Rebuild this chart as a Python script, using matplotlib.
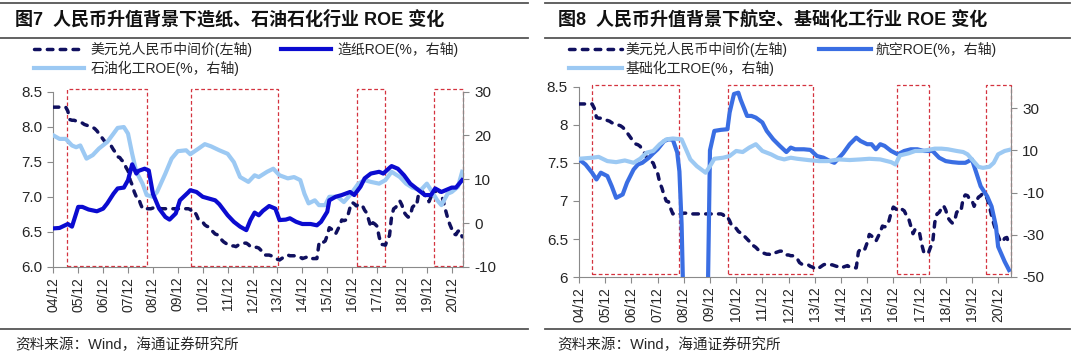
import matplotlib
matplotlib.use("Agg")
import matplotlib.pyplot as plt
import matplotlib.transforms as mtransforms
from matplotlib.patches import Rectangle
from matplotlib.lines import Line2D
import numpy as np

# ---------------- data ----------------
# USD/CNY central parity, monthly, 2004-12 .. 2021-05 (month index 0 = 2004-12)
usd_cny = [
    8.277,
    8.277, 8.277, 8.277, 8.277, 8.277, 8.277, 8.22, 8.10, 8.09, 8.09, 8.08, 8.07,
    8.06, 8.05, 8.03, 8.02, 8.01, 8.00, 7.99, 7.97, 7.94, 7.90, 7.86, 7.82,
    7.78, 7.75, 7.74, 7.72, 7.67, 7.63, 7.57, 7.56, 7.52, 7.50, 7.42, 7.37,
    7.24, 7.17, 7.07, 7.00, 6.99, 6.90, 6.83, 6.84, 6.83, 6.83, 6.83, 6.84,
    6.84, 6.84, 6.84, 6.83, 6.83, 6.83, 6.83, 6.83, 6.83, 6.83, 6.83, 6.83,
    6.83, 6.83, 6.83, 6.83, 6.83, 6.82, 6.78, 6.79, 6.74, 6.67, 6.65, 6.64,
    6.60, 6.58, 6.57, 6.53, 6.50, 6.47, 6.46, 6.41, 6.39, 6.36, 6.34, 6.32,
    6.31, 6.30, 6.30, 6.29, 6.31, 6.32, 6.33, 6.34, 6.34, 6.32, 6.29, 6.29,
    6.28, 6.28, 6.27, 6.24, 6.19, 6.17, 6.17, 6.17, 6.16, 6.14, 6.13, 6.11,
    6.10, 6.12, 6.14, 6.16, 6.17, 6.16, 6.16, 6.16, 6.15, 6.14, 6.14, 6.12,
    6.13, 6.14, 6.15, 6.13, 6.12, 6.12, 6.12, 6.33, 6.37, 6.35, 6.37, 6.45,
    6.56, 6.54, 6.51, 6.47, 6.53, 6.59, 6.67, 6.66, 6.67, 6.74, 6.85, 6.92,
    6.90, 6.87, 6.89, 6.89, 6.87, 6.81, 6.77, 6.67, 6.57, 6.63, 6.61, 6.58,
    6.43, 6.32, 6.32, 6.31, 6.39, 6.45, 6.72, 6.83, 6.85, 6.90, 6.94, 6.88,
    6.78, 6.74, 6.71, 6.73, 6.85, 6.88, 6.87, 7.04, 7.08, 7.07, 7.02, 7.01,
    6.93, 7.00, 7.05, 7.07, 7.10, 7.08, 7.03, 6.93, 6.81, 6.70, 6.61, 6.54,
    6.47, 6.46, 6.51, 6.52, 6.43,
]
usd_month = list(range(len(usd_cny)))

# 造纸 ROE (%)
paper_month = [0, 3, 7, 9, 12, 14, 17, 21, 24, 26, 29, 31, 34, 36, 38, 40, 41, 44, 46, 48,
               51, 54, 56, 59, 61, 65, 66, 69, 72, 75, 78, 80, 84, 87, 90, 93, 95, 97, 99,
               101, 104, 107, 109, 112, 114, 117, 120, 124, 127, 129, 132, 133, 136, 139,
               143, 145, 148, 150, 153, 157, 159, 162, 163, 166, 169, 172, 176, 179, 182,
               184, 187, 189, 192, 194, 197]
paper_roe = [-1.2, -1.1, -0.2, -0.8, 3.7, 3.7, 3.1, 2.7, 3.3, 4.5, 6.7, 7.9, 8.1, 9.8, 13.4,
             11.3, 11.9, 12.4, 12.0, 6.7, 3.3, 1.4, 0.8, 2.2, 5.2, 7.0, 7.5, 7.1, 6.0, 5.6,
             5.2, 4.3, 1.8, 0.3, -0.8, -1.6, 0.7, 2.4, 1.8, 2.8, 3.9, 3.3, 0.7, 0.8, 1.1,
             0.3, -0.2, -0.2, -0.5, 0.3, 2.6, 5.2, 6.0, 6.4, 7.1, 6.4, 8.3, 10.2, 11.3,
             11.7, 11.3, 12.6, 13.0, 12.4, 10.9, 9.0, 7.5, 6.4, 6.4, 7.9, 7.1, 7.5, 8.1,
             8.1, 9.8]

# 石油化工 ROE (%)
petro_month = [0, 3, 6, 9, 11, 13, 16, 19, 22, 26, 29, 31, 34, 36, 38, 40, 43, 45, 48, 50,
               54, 57, 60, 64, 66, 70, 73, 76, 80, 84, 87, 90, 94, 97, 99, 103, 106, 109,
               113, 116, 119, 121, 123, 126, 128, 131, 133, 137, 140, 143, 147, 150, 153,
               157, 160, 163, 167, 170, 173, 177, 180, 182, 185, 187, 190, 192, 195, 197]
petro_roe = [20.0, 19.2, 19.2, 17.7, 17.3, 17.7, 14.7, 15.5, 17.0, 18.5, 20.4, 21.7, 21.9,
             20.4, 15.8, 11.7, 9.0, 6.4, 6.0, 7.1, 11.3, 14.7, 16.4, 16.6, 15.7, 17.0, 18.0,
             17.5, 16.6, 15.8, 13.9, 10.5, 9.4, 10.9, 10.5, 11.7, 12.4, 10.9, 10.2, 10.5,
             9.8, 6.7, 4.5, 5.2, 4.1, 4.1, 6.0, 6.0, 4.8, 6.4, 9.0, 9.8, 9.4, 9.0, 9.8,
             11.7, 10.5, 9.0, 8.1, 7.5, 9.0, 7.5, 5.2, 4.1, 6.7, 7.1, 8.3, 11.7]

# 航空 ROE (%)  (values below -50 run off the chart in 2008-2009)
air_month = [0, 3, 6, 8, 10, 13, 15, 17, 20, 22, 25, 27, 29, 32, 34, 36, 39, 41, 43, 45,
             46, 47, 48, 49, 58, 59, 60, 62, 65, 68, 69, 71, 73, 74, 77, 79, 81, 84, 86,
             89, 92, 95, 97, 99, 103, 106, 109, 112, 115, 117, 121, 124, 127, 129, 132,
             134, 136, 138, 140, 143, 146, 149, 152, 155, 158, 162, 165, 168, 171, 174,
             177, 180, 182, 184, 187, 189, 191, 192, 195, 197]
air_roe = [5.7, 3.3, -0.6, -3.8, -0.6, -2.2, -7.0, -12.5, -10.9, -5.3, 0.9, 3.3, 4.1, 6.5,
           8.6, 10.5, 14.4, 15.2, 15.0, 9.0, 0.0, -25.0, -70.0, -150.0, -150.0, -60.0, 10.0,
           19.2, 19.7, 20.0, 27.9, 36.7, 37.3, 34.1, 26.3, 26.3, 25.5, 23.2, 19.2, 15.2,
           12.1, 9.2, 11.3, 10.5, 10.5, 10.2, 7.3, 6.5, 4.9, 4.1, 8.6, 12.9, 16.0, 14.4,
           12.9, 12.9, 10.5, 12.9, 12.1, 9.7, 8.1, 9.7, 10.5, 10.5, 9.7, 9.7, 6.5, 4.9,
           4.4, 4.1, 4.1, 5.7, -0.6, -7.0, -11.8, -16.6, -26.0, -35.6, -42.7, -46.7]

# 基础化工 ROE (%)
chem_month = [0, 6, 9, 13, 17, 21, 25, 28, 31, 34, 37, 40, 43, 47, 49, 51, 54, 58, 60, 62,
              66, 69, 72, 75, 78, 81, 84, 88, 91, 94, 97, 100, 105, 110, 114, 119, 124, 129,
              133, 138, 143, 145, 147, 151, 154, 157, 160, 163, 166, 169, 173, 176, 178,
              180, 183, 185, 188, 190, 192, 195, 197]
chem_roe = [6.0, 6.5, 6.9, 4.9, 4.4, 5.2, 4.1, 6.0, 8.9, 9.7, 12.9, 15.2, 15.6, 15.2, 10.5,
            5.7, 2.5, -0.6, 2.5, 6.0, 6.5, 7.3, 9.7, 9.2, 11.3, 12.9, 9.7, 8.1, 6.5, 5.7,
            6.5, 6.0, 5.4, 4.9, 4.9, 5.7, 5.4, 5.7, 6.0, 5.7, 4.4, 3.3, 7.6, 8.6, 9.7, 9.7,
            10.2, 10.8, 10.8, 10.5, 9.7, 9.2, 8.1, 5.7, 2.2, 1.7, 2.2, 4.1, 8.1, 9.7, 10.2]

# RMB appreciation periods highlighted (start month, end month)
periods_left = [(6.7, 45.0), (66.2, 108.4), (146.2, 159.9), (183.5, 197.5)]
periods_right = [(6.1, 45.8), (68.4, 107.3), (145.8, 160.3), (186.3, 197.9)]

year_ticks = list(range(0, 193, 12))
year_labels = ["%02d/12" % y for y in range(4, 21)]

title_left = "图7  人民币升值背景下造纸、石油石化行业 ROE 变化"
title_right = "图8  人民币升值背景下航空、基础化工行业 ROE 变化"
source_text = "资料来源：Wind，海通证券研究所"

# ---------------- styling ----------------
plt.rcParams["font.family"] = ["Liberation Sans", "Noto Sans CJK SC"]
plt.rcParams["axes.unicode_minus"] = False

W, H = 1080, 354
fig = plt.figure(figsize=(W / 100, H / 100), dpi=100)
fig.patch.set_facecolor("white")


def fx(px):
    return px / W


def fy(py):
    return 1 - py / H


NAVY = "#10105f"
BLUE = "#0b0bd0"
LIGHT = "#9cc9f3"
ROYAL = "#3a6ee3"
RED = "#d4333f"
GRAY = "#8a8a8a"
TXT = "#262626"


def style_axes(ax, axr, xmax):
    ax.set_xlim(0, xmax)
    for s in ["top"]:
        ax.spines[s].set_visible(False)
        axr.spines[s].set_visible(False)
    for s in ["left", "bottom"]:
        ax.spines[s].set_color(GRAY)
    axr.spines["right"].set_color(GRAY)
    axr.spines["left"].set_visible(False)
    axr.spines["bottom"].set_visible(False)
    ax.spines["right"].set_visible(False)
    ax.set_xticks(year_ticks)
    ax.set_xticklabels(year_labels, rotation=90)
    ax.tick_params(axis="x", direction="out", length=4, color=GRAY, labelsize=10,
                   labelcolor=TXT, pad=3)
    ax.tick_params(axis="y", direction="out", length=4, color=GRAY, labelsize=11,
                   labelcolor=TXT, pad=4)
    axr.tick_params(axis="y", direction="out", length=4, color=GRAY, labelsize=11,
                    labelcolor=TXT, pad=4)


def draw_periods(ax, periods, bottom, top):
    trans = mtransforms.blended_transform_factory(ax.transData, ax.transAxes)
    for (a, b) in periods:
        r = Rectangle((a, bottom), b - a, top - bottom, transform=trans, fill=False,
                      edgecolor=RED, lw=0.9, ls=(0, (3, 2)), clip_on=False, zorder=1)
        ax.add_patch(r)


# ---------------- left panel ----------------
axL = fig.add_axes([fx(53.3), fy(267), (463.2 - 53.3) / W, (267 - 91.5) / H])
axLr = axL.twinx()
axL.set_ylim(6.0, 8.5)
axL.set_yticks([6.0, 6.5, 7.0, 7.5, 8.0, 8.5])
axL.set_yticklabels(["6.0", "6.5", "7.0", "7.5", "8.0", "8.5"])
axLr.set_ylim(-10, 30)
axLr.set_yticks([-10, 0, 10, 20, 30])
style_axes(axL, axLr, 197.5)
draw_periods(axL, periods_left, 0.007, 1.015)

lu, = axL.plot(usd_month, usd_cny, color=NAVY, lw=2.5, dashes=(1.6, 2.1),
               dash_capstyle="round", label="美元兑人民币中间价(左轴)", zorder=3)
lp, = axLr.plot(paper_month, paper_roe, color=BLUE, lw=3.0, solid_joinstyle="round",
                label="造纸ROE(%，右轴)")
lo, = axLr.plot(petro_month, petro_roe, color=LIGHT, lw=3.0, solid_joinstyle="round",
                label="石油化工ROE(%，右轴)")
lp.set_zorder(3)
lo.set_zorder(2)

fig.legend(handles=[lu, lo, lp], labels=[h.get_label() for h in [lu, lo, lp]],
           ncol=2, loc="upper left", bbox_to_anchor=(fx(34), fy(42)),
           frameon=False, fontsize=10, handlelength=3.6, handletextpad=0.5,
           columnspacing=2.0, labelspacing=0.25, borderpad=0, borderaxespad=0,
           labelcolor=TXT)

# ---------------- right panel ----------------
axR = fig.add_axes([fx(579), fy(277), 432 / W, 190 / H])
axRr = axR.twinx()
axR.set_ylim(6.0, 8.5)
axR.set_yticks([6.0, 6.5, 7.0, 7.5, 8.0, 8.5])
axR.set_yticklabels(["6", "6.5", "7", "7.5", "8", "8.5"])
axRr.set_ylim(-50, 40)
axRr.set_yticks([-50, -30, -10, 10, 30])
style_axes(axR, axRr, 197.9)
draw_periods(axR, periods_right, 0.016, 1.01)

ru, = axR.plot(usd_month, usd_cny, color=NAVY, lw=2.5, dashes=(1.6, 2.1),
               dash_capstyle="round", label="美元兑人民币中间价(左轴)", zorder=3)
ra, = axRr.plot(air_month, air_roe, color=ROYAL, lw=3.0, solid_joinstyle="round",
                label="航空ROE(%，右轴)")
rc, = axRr.plot(chem_month, chem_roe, color=LIGHT, lw=3.0, solid_joinstyle="round",
                label="基础化工ROE(%，右轴)")

fig.legend(handles=[ru, rc, ra], labels=[h.get_label() for h in [ru, rc, ra]],
           ncol=2, loc="upper left", bbox_to_anchor=(fx(569), fy(42)),
           frameon=False, fontsize=10, handlelength=3.8, handletextpad=0.3,
           columnspacing=2.2, labelspacing=0.25, borderpad=0, borderaxespad=0,
           labelcolor=TXT)

# ---------------- titles, rules, sources ----------------
for x0, x1 in [(0, 528), (545, 1070)]:
    for yy in [2.7, 37.5, 329]:
        fig.add_artist(Line2D([fx(x0), fx(x1)], [fy(yy), fy(yy)], color="#555555",
                              lw=1.3))

fig.text(fx(15), fy(19.5), title_left, fontsize=13, fontweight="bold", va="center",
         ha="left", color="#111111")
fig.text(fx(558), fy(19.5), title_right, fontsize=13, fontweight="bold", va="center",
         ha="left", color="#111111")
fig.text(fx(15), fy(345), source_text, fontsize=10.5, va="center", ha="left", color=TXT)
fig.text(fx(557), fy(345), source_text, fontsize=10.5, va="center", ha="left", color=TXT)

fig.savefig("out.png", dpi=100, facecolor="white")
